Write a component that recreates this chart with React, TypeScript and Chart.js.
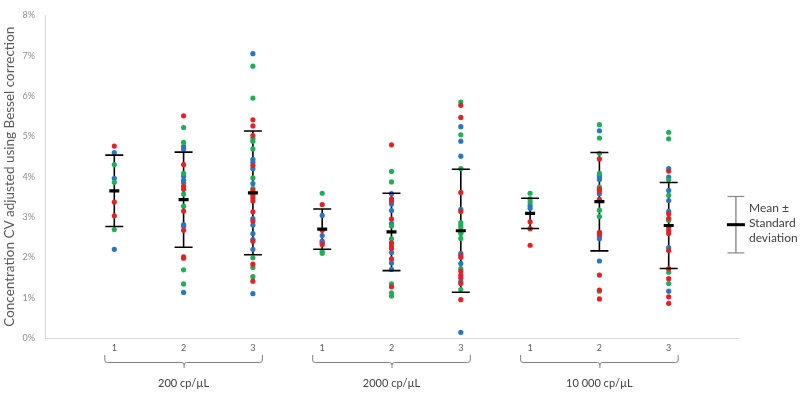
import React, { useEffect, useRef } from "react";
import { Chart, registerables } from "chart.js";
Chart.register(...registerables);

// ---- data (percent values) ----
const columnPositions = [1, 2, 3, 4, 5, 6, 7, 8, 9];
const replicateLabels = ["1", "2", "3"];
const groupLabels = ["200 cp/µL", "2000 cp/µL", "10 000 cp/µL"];
const yTickValues = [0, 1, 2, 3, 4, 5, 6, 7, 8];

const redValues: number[][] = [
  [4.76, 3.37, 3.03],
  [5.51, 4.3, 3.76, 3.69, 3.15, 2.67, 2.01, 1.98],
  [5.41, 5.26, 5.02, 4.28, 3.66, 3.54, 3.47, 3.4, 3.13, 2.9, 2.4, 1.83, 1.41],
  [3.31, 2.67, 2.32],
  [4.79, 3.45, 3.4, 2.95, 2.36, 2.28, 2.22, 1.96, 1.27],
  [5.77, 5.47, 3.61, 3.14, 2.05, 2.0, 1.66, 1.56, 1.49, 1.35, 0.95],
  [2.88, 2.71, 2.3],
  [4.44, 3.69, 3.65, 3.44, 2.62, 2.57, 1.56, 1.19, 0.97],
  [4.14, 3.08, 2.97, 2.76, 2.66, 2.59, 2.17, 1.72, 1.47, 1.02, 0.86],
];
const greenValues: number[][] = [
  [4.3, 3.86, 2.69],
  [5.22, 4.85, 4.08, 3.57, 3.27, 1.69, 1.34],
  [6.74, 5.95, 4.94, 4.88, 4.69, 3.97, 3.71, 1.99, 1.75, 1.52],
  [3.59, 2.15, 2.1],
  [4.13, 3.87, 2.78, 2.46, 1.34, 1.12, 1.04],
  [5.85, 5.04, 4.2, 2.86, 2.8, 2.74, 2.62, 2.59, 2.47, 1.72, 1.2],
  [3.59, 3.45, 3.37],
  [5.29, 4.96, 4.58, 4.08, 3.74, 3.17, 3.01, 1.16],
  [5.1, 4.94, 3.93, 3.54, 2.92, 2.72, 1.63, 1.35],
];
const blueValues: number[][] = [
  [4.6, 3.96, 2.2],
  [4.75, 4.69, 4.01, 3.91, 3.85, 2.81, 2.77, 1.13],
  [7.05, 4.43, 4.36, 4.2, 3.83, 2.96, 2.8, 2.59, 2.44, 2.2, 1.1],
  [3.04, 2.54, 2.4, 2.37],
  [3.58, 3.32, 3.16, 2.84, 2.12, 1.86, 1.7],
  [5.24, 4.88, 4.51, 3.19, 2.1, 1.85, 1.4, 0.14],
  [3.29, 3.22],
  [5.14, 4.03, 3.98, 3.93, 3.58, 2.52, 2.46, 1.91],
  [4.2, 3.99, 3.66, 3.41, 3.14, 2.24, 1.16],
];
const meanValues = [3.65, 3.43, 3.6, 2.7, 2.63, 2.66, 3.09, 3.38, 2.79];
const sdValues = [0.885, 1.18, 1.535, 0.5, 0.96, 1.525, 0.375, 1.22, 1.065];

const legendPosition = 9.97;
const legendMean = 2.81;
const legendSd = 0.7;
const legendLines = ["Mean ±", "Standard", "deviation"];

const RED = "#e32228";
const GREEN = "#21ad5a";
const BLUE = "#2778c0";
const FONT = "Lato";

const toPoints = (vals: number[][]) =>
  vals.flatMap((col, i) => col.map((v) => ({ x: columnPositions[i], y: v })));

const bracketPlugin = {
  id: "brackets",
  afterDraw(chart: any) {
    const { ctx, chartArea } = chart;
    const xs = chart.scales.x;
    const base = chartArea.bottom;
    ctx.save();
    ctx.strokeStyle = "#808080";
    ctx.lineWidth = 1;
    groupLabels.forEach((label, g) => {
      const xl = xs.getPixelForValue(columnPositions[g * 3]) - 10;
      const xm = xs.getPixelForValue(columnPositions[g * 3 + 1]);
      const xr = xs.getPixelForValue(columnPositions[g * 3 + 2]) + 10;
      const top = base + 17;
      const line = base + 24;
      ctx.beginPath();
      ctx.moveTo(xl + 0.5, top);
      ctx.lineTo(xl + 0.5, line - 2);
      ctx.quadraticCurveTo(xl + 0.5, line + 0.5, xl + 3, line + 0.5);
      ctx.lineTo(xm - 2, line + 0.5);
      ctx.quadraticCurveTo(xm + 0.5, line + 0.5, xm + 0.5, line + 3);
      ctx.lineTo(xm + 0.5, base + 30);
      ctx.moveTo(xm + 0.5, line + 3);
      ctx.quadraticCurveTo(xm + 0.5, line + 0.5, xm + 3, line + 0.5);
      ctx.lineTo(xr - 3, line + 0.5);
      ctx.quadraticCurveTo(xr - 0.5, line + 0.5, xr - 0.5, line - 2);
      ctx.lineTo(xr - 0.5, top);
      ctx.stroke();
      ctx.fillStyle = "#404040";
      ctx.font = `11px ${FONT}`;
      ctx.textAlign = "center";
      ctx.textBaseline = "middle";
      ctx.fillText(label, xm, base + 45);
    });
    const ys = chart.scales.y;
    const lx = xs.getPixelForValue(legendPosition) + 13;
    const ly = ys.getPixelForValue(legendMean);
    ctx.fillStyle = "#404040";
    ctx.font = `12px ${FONT}`;
    ctx.textAlign = "left";
    ctx.textBaseline = "middle";
    legendLines.forEach((t, i) => ctx.fillText(t, lx, ly + (i - 1) * 15 - 2));
    ctx.restore();
  },
};

export default function App() {
  const ref = useRef<HTMLCanvasElement>(null);
  useEffect(() => {
    if (!ref.current) return;
    const whiskers: any[] = [];
    const caps: any[] = [];
    meanValues.forEach((m, i) => {
      const x = columnPositions[i];
      whiskers.push({ x, y: m - sdValues[i] }, { x, y: m + sdValues[i] }, { x, y: null });
      caps.push({ x, y: m - sdValues[i] }, { x, y: m + sdValues[i] });
    });
    const means = meanValues.map((m, i) => ({ x: columnPositions[i], y: m }));
    const pointDs = (data: any[], color: string) => ({
      data,
      pointRadius: 2.6,
      pointBorderWidth: 0,
      pointBackgroundColor: color,
      backgroundColor: color,
      borderColor: color,
      order: 2,
    });
    const chart = new Chart(ref.current, {
      type: "scatter",
      data: {
        datasets: [
          {
            data: whiskers,
            showLine: true,
            spanGaps: false,
            borderColor: "#000",
            borderWidth: 1.6,
            pointRadius: 0,
            order: 3,
          } as any,
          pointDs(toPoints(redValues), RED),
          pointDs(toPoints(greenValues), GREEN),
          pointDs(toPoints(blueValues), BLUE),
          {
            data: caps,
            pointStyle: "line",
            pointRadius: 9,
            pointBorderWidth: 1.6,
            pointBorderColor: "#000",
            borderColor: "#000",
            order: 1,
          } as any,
          {
            data: means,
            pointStyle: "line",
            pointRadius: 5,
            pointBorderWidth: 3.2,
            pointBorderColor: "#000",
            borderColor: "#000",
            order: 0,
          } as any,
          {
            data: [
              { x: legendPosition, y: legendMean - legendSd },
              { x: legendPosition, y: legendMean + legendSd },
            ],
            showLine: true,
            borderColor: "#8a8a8a",
            borderWidth: 1.4,
            pointStyle: "line",
            pointRadius: 8.5,
            pointBorderWidth: 1.2,
            pointBorderColor: "#8a8a8a",
            clip: false,
            order: 1,
          } as any,
          {
            data: [{ x: legendPosition, y: legendMean }],
            pointStyle: "line",
            pointRadius: 9,
            pointBorderWidth: 3,
            pointBorderColor: "#000",
            borderColor: "#000",
            clip: false,
            order: 0,
          } as any,
        ],
      },
      options: {
        responsive: false,
        animation: false,
        layout: { padding: { top: 15, right: 62, bottom: 0, left: 0 } },
        plugins: { legend: { display: false }, tooltip: { enabled: false } },
        scales: {
          x: {
            type: "linear",
            min: 0,
            max: 10,
            afterFit: (s: any) => {
              s.height = 58;
            },
            afterBuildTicks: (s: any) => {
              s.ticks = [0, ...columnPositions, 10].map((v) => ({ value: v }));
            },
            ticks: {
              padding: 5,
              color: "#595959",
              font: { family: FONT, size: 9 },
              maxRotation: 0,
              autoSkip: false,
              callback: (v: any) => {
                const i = columnPositions.indexOf(Number(v));
                return i >= 0 ? replicateLabels[i % 3] : "";
              },
            },
            grid: { color: "rgba(0,0,0,0)", drawTicks: false },
            border: { display: true, color: "#d9d9d9", width: 1 },
          },
          y: {
            min: 0,
            max: 8,
            afterFit: (s: any) => {
              s.width = 45;
            },
            afterBuildTicks: (s: any) => {
              s.ticks = yTickValues.map((v) => ({ value: v }));
            },
            ticks: {
              padding: 10,
              color: "#8c8c8c",
              font: { family: FONT, size: 9 },
              callback: (v: any) => `${v}%`,
            },
            title: {
              display: true,
              text: "Concentration CV adjusted using Bessel correction",
              color: "#595959",
              font: { family: FONT, size: 13.5 },
              padding: { top: 2, bottom: 0 },
            },
            grid: { color: "rgba(0,0,0,0)", drawTicks: false },
            border: { display: true, color: "#d9d9d9", width: 1 },
          },
        },
      },
      plugins: [bracketPlugin],
    });
    return () => chart.destroy();
  }, []);
  return (
    <canvas
      ref={ref}
      width={800}
      height={396}
      style={{ position: "fixed", left: 0, top: 0, width: 800, height: 396 }}
    />
  );
}
